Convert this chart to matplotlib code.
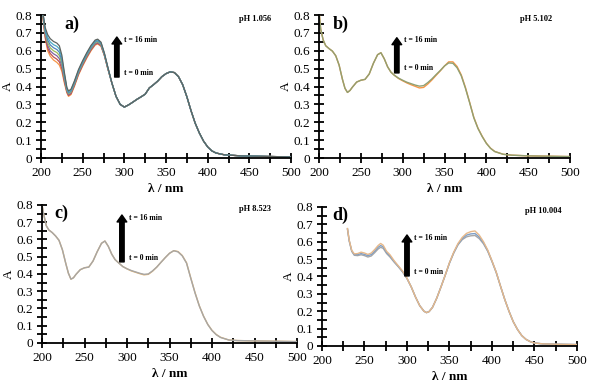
''' UV-Vis spectra at four pH values, recorded over 16 min '''

import matplotlib.pyplot as plt
from matplotlib.ticker import MultipleLocator

plt.rcParams['font.family'] = ['Liberation Serif', 'DejaVu Serif']

# ---- panel a) pH 1.056 : the curves split only below 285 nm ----
wl_a_head = [200, 202, 205, 208, 211, 215, 219, 222, 225, 228, 231, 233, 236, 240,
             245, 250, 255, 260, 265, 268, 272, 276, 280]
a_heads = [
    [0.84, 0.80, 0.67, 0.60, 0.57, 0.548, 0.535, 0.52, 0.485, 0.42, 0.365, 0.345, 0.355, 0.40,
     0.465, 0.515, 0.56, 0.60, 0.632, 0.638, 0.625, 0.573, 0.502],
    [0.84, 0.80, 0.68, 0.615, 0.585, 0.565, 0.553, 0.538, 0.50, 0.43, 0.37, 0.35, 0.36, 0.405,
     0.47, 0.52, 0.565, 0.605, 0.636, 0.642, 0.628, 0.575, 0.503],
    [0.84, 0.81, 0.69, 0.63, 0.60, 0.583, 0.572, 0.556, 0.515, 0.44, 0.375, 0.355, 0.365, 0.41,
     0.475, 0.525, 0.57, 0.61, 0.64, 0.646, 0.632, 0.577, 0.504],
    [0.84, 0.81, 0.70, 0.645, 0.617, 0.60, 0.59, 0.574, 0.53, 0.45, 0.38, 0.36, 0.37, 0.415,
     0.48, 0.53, 0.575, 0.615, 0.645, 0.651, 0.636, 0.579, 0.506],
    [0.84, 0.82, 0.71, 0.66, 0.633, 0.617, 0.607, 0.592, 0.545, 0.46, 0.385, 0.365, 0.375, 0.42,
     0.485, 0.535, 0.58, 0.62, 0.65, 0.656, 0.64, 0.582, 0.508],
    [0.84, 0.82, 0.72, 0.675, 0.65, 0.634, 0.625, 0.61, 0.56, 0.47, 0.39, 0.37, 0.38, 0.425,
     0.49, 0.54, 0.585, 0.625, 0.655, 0.66, 0.644, 0.585, 0.51],
    [0.84, 0.82, 0.73, 0.69, 0.668, 0.652, 0.643, 0.628, 0.575, 0.48, 0.395, 0.375, 0.385, 0.43,
     0.495, 0.545, 0.59, 0.63, 0.66, 0.665, 0.648, 0.588, 0.512],
]
wl_a_tail = [285, 290, 295, 300, 305, 310, 315, 320, 325, 330, 335, 340, 345, 350, 355,
             360, 365, 370, 375, 380, 385, 390, 395, 400, 405, 410, 420, 430, 440, 460,
             480, 500]
a_tail = [0.42, 0.345, 0.30, 0.285, 0.297, 0.312, 0.328, 0.342, 0.357, 0.392, 0.41, 0.43,
          0.455, 0.472, 0.482, 0.478, 0.455, 0.41, 0.343, 0.265, 0.195, 0.14, 0.095, 0.062,
          0.04, 0.028, 0.018, 0.015, 0.012, 0.01, 0.008, 0.006]
a_colors = ['#F79646', '#C0504D', '#8064A2', '#9BBB59', '#4F81BD', '#4BACC6', '#5F6460']

# ---- panels b) pH 5.102 and c) pH 8.523 ----
wl_bc = [200, 202, 205, 208, 212, 216, 220, 224, 228, 231, 234, 237, 240, 245, 250, 255,
         260, 265, 270, 274, 278, 282, 286, 290, 295, 300, 305, 310, 315, 320, 325, 330,
         335, 340, 345, 350, 355, 360, 365, 370, 375, 380, 385, 390, 395, 400, 405, 410,
         420, 430, 450, 475, 500]
b_curves = [
    [0.82, 0.72, 0.66, 0.628, 0.612, 0.598, 0.572, 0.52, 0.44, 0.39, 0.367, 0.378, 0.397,
     0.425, 0.435, 0.44, 0.47, 0.53, 0.578, 0.589, 0.555, 0.51, 0.48, 0.463, 0.445, 0.432,
     0.42, 0.41, 0.401, 0.392, 0.395, 0.414, 0.437, 0.463, 0.488, 0.515, 0.538, 0.538,
     0.512, 0.465, 0.395, 0.312, 0.228, 0.167, 0.122, 0.083, 0.055, 0.037, 0.021, 0.016,
     0.012, 0.01, 0.008],
    [0.82, 0.72, 0.66, 0.628, 0.612, 0.598, 0.572, 0.52, 0.44, 0.39, 0.367, 0.378, 0.397,
     0.425, 0.435, 0.44, 0.47, 0.53, 0.578, 0.589, 0.555, 0.51, 0.48, 0.463, 0.447, 0.435,
     0.424, 0.416, 0.408, 0.402, 0.405, 0.422, 0.443, 0.467, 0.49, 0.515, 0.532, 0.53,
     0.505, 0.46, 0.39, 0.31, 0.225, 0.165, 0.12, 0.082, 0.054, 0.036, 0.021, 0.016,
     0.012, 0.01, 0.008],
]
b_colors = ['#F79646', '#8FA072']

c_curves = [
    [0.80, 0.745, 0.68, 0.655, 0.64, 0.62, 0.595, 0.54, 0.46, 0.405, 0.37, 0.378, 0.398,
     0.425, 0.436, 0.44, 0.475, 0.53, 0.578, 0.591, 0.56, 0.515, 0.483, 0.465, 0.443, 0.43,
     0.418, 0.41, 0.402, 0.395, 0.398, 0.416, 0.44, 0.468, 0.495, 0.52, 0.535, 0.53, 0.507,
     0.465, 0.377, 0.292, 0.216, 0.156, 0.108, 0.073, 0.049, 0.033, 0.017, 0.014, 0.012,
     0.01, 0.008],
    [0.80, 0.745, 0.68, 0.655, 0.64, 0.62, 0.595, 0.54, 0.46, 0.405, 0.37, 0.378, 0.398,
     0.425, 0.436, 0.44, 0.475, 0.53, 0.578, 0.591, 0.56, 0.515, 0.483, 0.465, 0.443, 0.43,
     0.42, 0.412, 0.404, 0.398, 0.40, 0.418, 0.44, 0.468, 0.495, 0.52, 0.535, 0.528, 0.505,
     0.463, 0.375, 0.29, 0.215, 0.155, 0.107, 0.072, 0.048, 0.032, 0.017, 0.014, 0.012,
     0.01, 0.008],
]
c_colors = ['#E9B66E', '#A6A6A6']

# ---- panel d) pH 10.004 ----
wl_d = [230, 232, 235, 238, 242, 246, 250, 254, 258, 262, 266, 269, 272, 276, 280, 285,
        290, 295, 300, 305, 310, 315, 320, 323, 326, 330, 335, 340, 345, 350, 355, 360,
        365, 370, 375, 380, 385, 390, 395, 400, 405, 410, 415, 420, 425, 430, 435, 440,
        445, 450, 460, 475, 500]
d_curves = [
    [0.672, 0.605, 0.545, 0.522, 0.52, 0.525, 0.52, 0.512, 0.518, 0.537, 0.558, 0.568,
     0.562, 0.532, 0.512, 0.482, 0.455, 0.425, 0.388, 0.34, 0.282, 0.232, 0.2, 0.192, 0.198,
     0.222, 0.275, 0.34, 0.407, 0.477, 0.535, 0.582, 0.612, 0.628, 0.634, 0.636, 0.618,
     0.588, 0.545, 0.486, 0.422, 0.344, 0.268, 0.2, 0.14, 0.095, 0.06, 0.038, 0.025, 0.017,
     0.012, 0.01, 0.008],
    [0.674, 0.607, 0.547, 0.526, 0.526, 0.532, 0.527, 0.52, 0.526, 0.546, 0.568, 0.578,
     0.571, 0.538, 0.518, 0.486, 0.457, 0.427, 0.389, 0.34, 0.282, 0.232, 0.2, 0.192, 0.198,
     0.222, 0.275, 0.34, 0.408, 0.478, 0.537, 0.585, 0.618, 0.638, 0.645, 0.647, 0.627,
     0.594, 0.548, 0.488, 0.424, 0.345, 0.268, 0.2, 0.14, 0.095, 0.06, 0.038, 0.025, 0.017,
     0.012, 0.01, 0.008],
    [0.676, 0.61, 0.55, 0.53, 0.532, 0.54, 0.535, 0.527, 0.535, 0.555, 0.578, 0.59, 0.58,
     0.545, 0.525, 0.49, 0.46, 0.43, 0.39, 0.34, 0.282, 0.232, 0.2, 0.192, 0.198, 0.222,
     0.275, 0.34, 0.408, 0.48, 0.54, 0.59, 0.625, 0.648, 0.658, 0.662, 0.638, 0.6, 0.552,
     0.49, 0.425, 0.345, 0.268, 0.2, 0.14, 0.095, 0.06, 0.038, 0.025, 0.017, 0.012, 0.01,
     0.008],
]
d_colors = ['#A6A6A6', '#7F9FC6', '#E6B88A']

# Panel texts
panel_tags = ['a)', 'b)', 'c)', 'd)']
ph_labels = ['pH 1.056', 'pH 5.102', 'pH 8.523', 'pH 10.004']
x_ticks = [200, 250, 300, 350, 400, 450, 500]
y_ticks = [0, 0.1, 0.2, 0.3, 0.4, 0.5, 0.6, 0.7, 0.8]
y_tick_labels = ['0', '0.1', '0.2', '0.3', '0.4', '0.5', '0.6', '0.7', '0.8']


def style_axis(ax, tag, ph, arrow_x, arrow_y0, arrow_y1, tag_x, ph_x):
    ax.set_xlim(200, 500)
    ax.set_ylim(0, 0.8)
    for side in ['top', 'right']:
        ax.spines[side].set_visible(False)
    ax.spines['left'].set_linewidth(1.3)
    ax.spines['bottom'].set_linewidth(1.3)
    ax.set_xticks(x_ticks)
    ax.set_yticks(y_ticks)
    ax.set_yticklabels(y_tick_labels)
    ax.xaxis.set_minor_locator(MultipleLocator(25))
    ax.yaxis.set_minor_locator(MultipleLocator(0.05))
    ax.tick_params(which='both', direction='inout', length=7, width=1.3,
                   color='black', labelsize=9.5, pad=3)
    ax.set_xlabel('λ / nm', fontsize=9.5, fontweight='bold', labelpad=3)
    ax.set_ylabel('A', fontsize=9.5, labelpad=1)
    ax.text(tag_x, 0.75, tag, fontsize=13, fontweight='bold', ha='left', va='center')
    ax.text(ph_x, 0.775, ph, fontsize=6, fontweight='bold', ha='center', va='center')
    ax.annotate('', xy=(arrow_x, arrow_y1), xytext=(arrow_x, arrow_y0),
                arrowprops=dict(facecolor='black', edgecolor='black', width=3.2,
                                headwidth=7, headlength=5, shrink=0))
    ax.text(arrow_x + 8, arrow_y1 - 0.015, 't = 16 min', fontsize=5.5,
            fontweight='bold', ha='left', va='center')
    ax.text(arrow_x + 8, arrow_y0 + 0.025, 't = 0 min', fontsize=5.5,
            fontweight='bold', ha='left', va='center')


fig = plt.figure(figsize=(5.91, 3.84), dpi=100)
ax_a = fig.add_axes([0.0694, 0.5885, 0.423, 0.3724])
ax_b = fig.add_axes([0.5398, 0.5885, 0.4247, 0.3724])
ax_c = fig.add_axes([0.0711, 0.1068, 0.4315, 0.3594])
ax_d = fig.add_axes([0.5448, 0.0990, 0.4315, 0.3620])

for head, col in zip(a_heads, a_colors):
    ax_a.plot(wl_a_head + wl_a_tail, head + a_tail, color=col, lw=0.9)
for curve, col in zip(b_curves, b_colors):
    ax_b.plot(wl_bc, curve, color=col, lw=1.0)
for curve, col in zip(c_curves, c_colors):
    ax_c.plot(wl_bc, curve, color=col, lw=1.0)
for curve, col in zip(d_curves, d_colors):
    ax_d.plot(wl_d, curve, color=col, lw=1.0)

style_axis(ax_a, panel_tags[0], ph_labels[0], 291, 0.453, 0.677, 228, 457)
style_axis(ax_b, panel_tags[1], ph_labels[1], 293, 0.476, 0.673, 216, 460)
style_axis(ax_c, panel_tags[2], ph_labels[2], 294, 0.47, 0.742, 214, 451)
style_axis(ax_d, panel_tags[3], ph_labels[3], 300, 0.403, 0.639, 212, 460)

fig.savefig('out.png', dpi=100)
